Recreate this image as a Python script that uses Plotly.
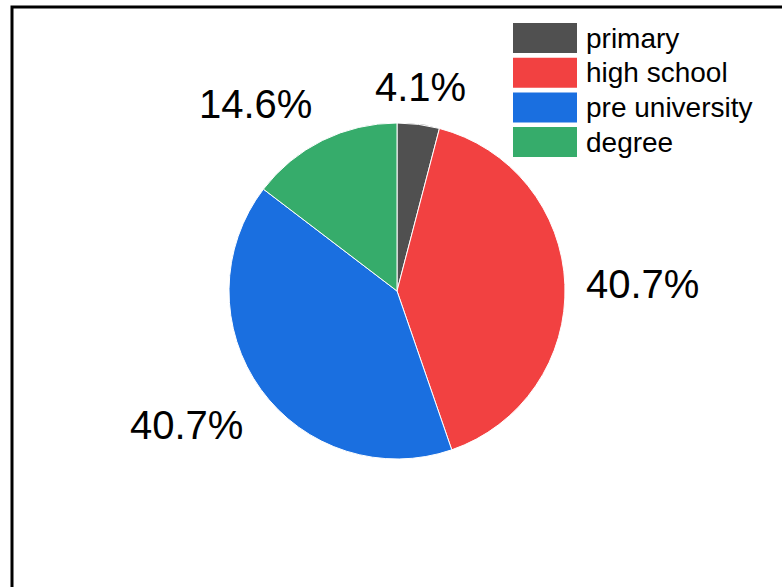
import math
import plotly.graph_objects as go

# Education level counts
categories = ["primary", "high school", "pre university", "degree"]
counts = [5, 50, 50, 18]
colors = ["#505050", "#F24141", "#1A6FE0", "#36AC6B"]

W, H = 782, 587
FONT = "Liberation Sans, Arial, sans-serif"

# Pie placement in pixels (center and radius)
cx, cy, r = 397, 291, 168
label_gap = 19

fig = go.Figure(
    go.Pie(
        labels=categories,
        values=counts,
        sort=False,
        direction="clockwise",
        rotation=0,
        marker=dict(colors=colors, line=dict(color="white", width=1)),
        textinfo="none",
        showlegend=False,
        domain=dict(
            x=[(cx - r) / W, (cx + r) / W],
            y=[1 - (cy + r) / H, 1 - (cy - r) / H],
        ),
        hoverinfo="label+percent",
    )
)

annotations = []

# Percentage labels placed outside each slice, at its mid-angle
total = sum(counts)
cum = 0
for v in counts:
    frac = v / total
    theta = 2 * math.pi * (cum + frac / 2)  # clockwise from 12 o'clock
    cum += frac
    s, c = math.sin(theta), math.cos(theta)
    px = cx + (r + label_gap) * s
    py = cy - (r + label_gap) * c
    xanchor = "left" if s > 0.3 else ("right" if s < -0.3 else "center")
    yanchor = "bottom" if c > 0.3 else ("top" if c < -0.3 else "middle")
    annotations.append(dict(
        xref="paper", yref="paper", x=px / W, y=1 - py / H,
        xanchor=xanchor, yanchor=yanchor,
        yshift=-5 if yanchor == "bottom" else 0,
        text=f"{frac * 100:.1f}%", showarrow=False,
        font=dict(family=FONT, size=40, color="black"),
    ))

# Legend: wide colour swatches with labels at the top right
sw_x0, sw_x1 = 513, 577
row_top, row_h, row_step = 23, 30, 34.7
shapes = []
for i, (name, col) in enumerate(zip(categories, colors)):
    y0 = row_top + i * row_step
    y1 = y0 + row_h
    shapes.append(dict(
        type="rect", xref="paper", yref="paper",
        x0=sw_x0 / W, x1=sw_x1 / W, y0=1 - y1 / H, y1=1 - y0 / H,
        fillcolor=col, line=dict(width=0),
    ))
    annotations.append(dict(
        xref="paper", yref="paper", x=(sw_x1 + 7) / W, y=1 - (y0 + row_h / 2) / H,
        xanchor="left", yanchor="middle", text=name, showarrow=False,
        font=dict(family=FONT, size=28, color="black"),
    ))

# Outer frame
shapes.append(dict(
    type="rect", xref="paper", yref="paper",
    x0=12 / W, x1=1.05, y0=-0.05, y1=1 - 7 / H,
    line=dict(color="black", width=3), fillcolor="rgba(0,0,0,0)",
))

fig.update_layout(
    width=W, height=H,
    margin=dict(l=0, r=0, t=0, b=0),
    paper_bgcolor="white",
    plot_bgcolor="white",
    shapes=shapes,
    annotations=annotations,
    font=dict(family=FONT),
)

fig.write_html("out.html")
